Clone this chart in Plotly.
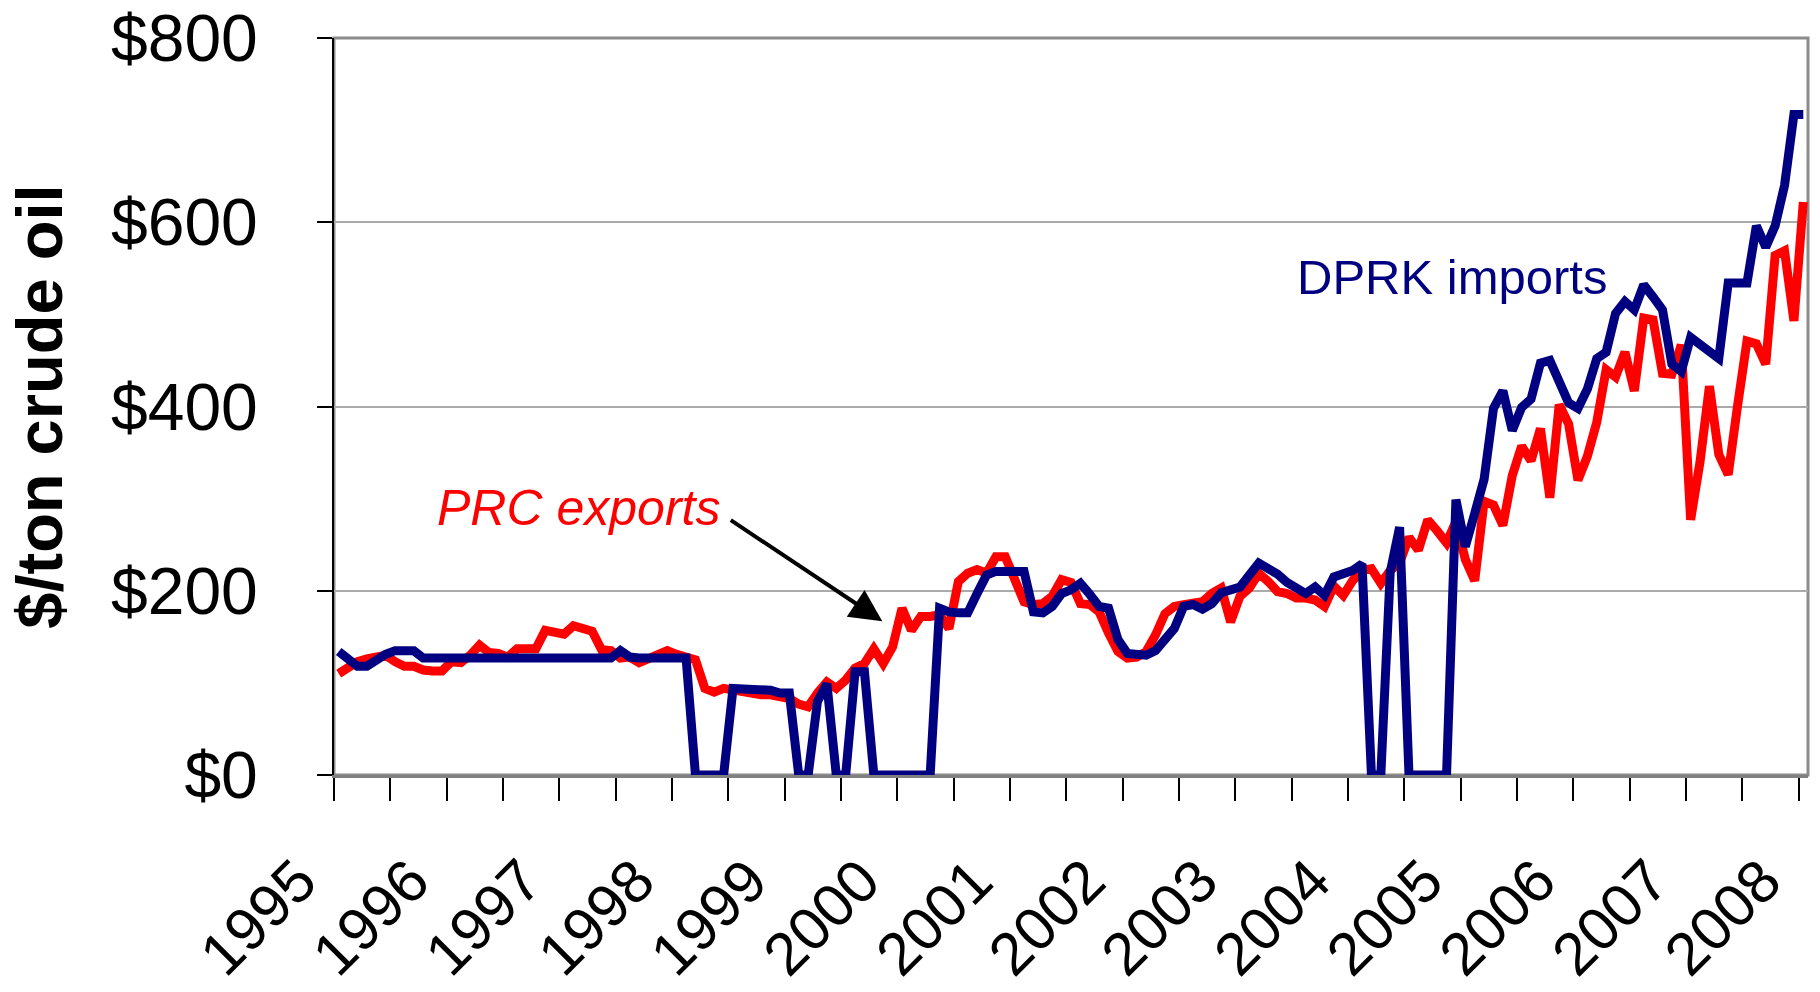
import plotly.graph_objects as go

# monthly prices, Jan 1995 .. Jan 2008, $/ton crude oil
years = list(range(1995, 2009))
y_ticks = [0, 200, 400, 600, 800]
y_labels = ["$0", "$200", "$400", "$600", "$800"]

prc_exports = [
    110, 118, 123, 126, 128, 130, 123, 118, 118, 114, 113, 113,
    123, 122, 130, 141, 133, 132, 128, 137, 137, 137, 157, 154,
    153, 162, 159, 156, 136, 135, 127, 128, 122, 127, 130, 135,
    131, 127, 125, 94, 90, 94, 92, 89, 87, 87, 87, 84,
    83, 77, 74, 89, 101, 94, 103, 116, 121, 137, 121, 139,
    181, 157, 172, 172, 174, 159, 210, 219, 223, 219, 237, 237,
    212, 188, 185, 186, 194, 212, 209, 186, 185, 177, 154, 134,
    127, 128, 134, 152, 175, 183, 185, 186, 188, 197, 203, 166,
    194, 203, 219, 210, 199, 197, 192, 192, 190, 183, 205, 195,
    211, 222, 224, 208, 222, 230, 258, 244, 277, 265, 252, 275,
    234, 211, 297, 293, 271, 325, 357, 341, 376, 301, 402, 381,
    320, 346, 383, 440, 432, 459, 417, 496, 494, 436, 435, 467,
    277, 340, 422, 348, 326, 401, 471, 468, 446, 564, 569, 493,
    622,
]

dprk_imports = [
    134, 127, 118, 118, 125, 131, 135, 135, 135, 127, 127, 127,
    127, 127, 127, 127, 127, 127, 127, 127, 127, 127, 127, 127,
    127, 127, 127, 127, 127, 127, 135, 128, 127, 127, 127, 127,
    127, 127, 0, 0, 0, 0, 94, 94, 94, 92, 92, 89,
    89, 0, 0, 80, 99, 0, 0, 112, 112, 0, 0, 0,
    0, 0, 0, 0, 181, 177, 176, 176, 197, 217, 221, 221,
    221, 221, 177, 176, 183, 197, 201, 208, 196, 183, 181, 147,
    132, 130, 130, 135, 147, 159, 183, 185, 180, 186, 198, 201,
    204, 217, 230, 224, 218, 209, 202, 197, 204, 195, 215, 219,
    222, 229, 0, 0, 220, 269, 0, 0, 0, 0, 0, 299,
    248, 284, 321, 398, 417, 374, 399, 408, 447, 450, 426, 404,
    398, 419, 452, 459, 501, 514, 505, 532, 519, 505, 446, 438,
    475, 467, 460, 452, 534, 534, 534, 596, 573, 596, 640, 717,
    717,
]

months = list(range(len(prc_exports)))

font = "Liberation Sans, Arial, sans-serif"

fig = go.Figure()
fig.add_trace(go.Scatter(x=months, y=prc_exports, mode="lines", name="PRC exports",
                         line=dict(color="#FF0000", width=9)))
fig.add_trace(go.Scatter(x=months, y=dprk_imports, mode="lines", name="DPRK imports",
                         line=dict(color="#000080", width=9)))

# trailing nbsp pushes the slanted year labels down-left of the tick, like the original
fig.update_xaxes(
    range=[-0.5, len(months) - 0.5],
    tickmode="array", tickvals=[12 * k - 0.5 for k in range(len(years))],
    ticktext=[str(y) + "\u00a0" * 3 for y in years], tickangle=-45,
    ticks="outside", ticklen=23, tickwidth=2, tickcolor="black",
    minor=dict(tickmode="linear", tick0=-0.5, dtick=6, ticks="outside",
               ticklen=23, tickwidth=2, tickcolor="black"),
    showgrid=False, zeroline=False, showline=True, linecolor="#808080", linewidth=3,
    tickfont=dict(family=font, size=60, color="black"), ticklabelstandoff=-15,
    ticklabeloverflow="allow",
)
fig.update_yaxes(
    range=[0, 800], tickmode="array", tickvals=y_ticks, ticktext=y_labels,
    ticks="outside", ticklen=15, tickwidth=2, tickcolor="black",
    showgrid=True, gridcolor="#AAAAAA", gridwidth=1.5, zeroline=False,
    showline=True, linecolor="black", linewidth=2,
    tickfont=dict(family=font, size=66, color="black"), ticklabelstandoff=46,
    ticklabeloverflow="allow",
)

# plot-area frame (top/right gray)
fig.add_shape(type="rect", xref="paper", yref="paper", x0=0, y0=0, x1=1, y1=1,
              line=dict(color="#8C8C8C", width=3), layer="below")

# y axis title
fig.add_annotation(text="<b>$/ton crude oil</b>", xref="paper", yref="paper",
                   x=-0.2, y=0.5, xanchor="center", yanchor="middle",
                   textangle=-90, showarrow=False,
                   font=dict(family=font, size=65, color="black"))

# series labels
fig.add_annotation(text="<i>PRC exports</i>", x=25.5, y=290, showarrow=False,
                   font=dict(family=font, size=50, color="#FF0000"))
fig.add_annotation(text="DPRK imports", x=118.6, y=541, showarrow=False,
                   font=dict(family=font, size=49, color="#000080"))
# arrow pointing at the PRC line
fig.add_annotation(text="", x=57.9, y=167, ax=-153, ay=-102, showarrow=True,
                   arrowhead=2, arrowsize=1.6, arrowwidth=4, arrowcolor="black")

fig.update_layout(
    width=1820, height=992, showlegend=False,
    paper_bgcolor="white", plot_bgcolor="white",
    margin=dict(l=326, r=20, t=30, b=225, autoexpand=False),
)

fig.write_html("out.html")
